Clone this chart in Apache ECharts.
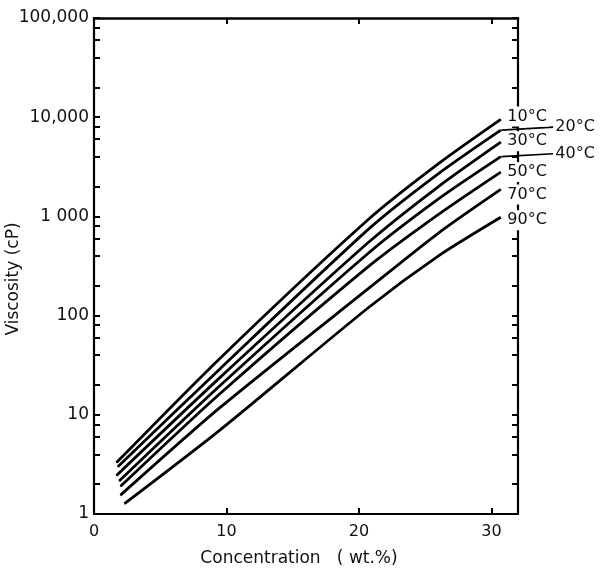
<!DOCTYPE html>
<html>
<head>
<meta charset="utf-8">
<script src="https://cdn.jsdelivr.net/npm/echarts@6/dist/echarts.min.js"></script>
<style>
html,body{margin:0;padding:0;background:#fff;}
#chart{width:600px;height:575px;}
</style>
</head>
<body>
<div id="chart"></div>
<script>
// Temperatures (series names / end labels)
const temps = ['10°C', '20°C', '30°C', '40°C', '50°C', '70°C', '90°C'];
// [concentration wt.%, viscosity cP]
const visc10 = [[1.7, 3.3], [9.5, 37], [20.7, 930], [26, 3400], [30.7, 9500]];
const visc20 = [[1.8, 3.0], [9.5, 29], [20.7, 740], [26, 2700], [30.7, 7400]];
const visc30 = [[1.7, 2.45], [9.5, 23.7], [20.7, 545], [26, 2000], [30.7, 5600]];
const visc40 = [[1.9, 2.15], [9.5, 19.6], [20.7, 425], [26, 1500], [30.7, 4000]];
const visc50 = [[2.0, 1.9], [9.5, 16.3], [20.7, 312], [26, 1050], [30.7, 2800]];
const visc70 = [[2.0, 1.55], [9.5, 11.8], [20.7, 187], [26, 680], [30.7, 1870]];
const visc90 = [[2.3, 1.27], [9.5, 7.0], [20.7, 120], [26, 400], [30.7, 980]];
const allVisc = [visc10, visc20, visc30, visc40, visc50, visc70, visc90];

// Axis ticks / labels
const xLabelValues = [0, 10, 20, 30];
const xTickValues = [10, 20, 30];
const yLabelValues = [1, 10, 100, 1000, 10000, 100000];
const yLabelTexts = ['1', '10', '100', '1 000', '10,000', '100,000'];
const yTickValues = [1, 2, 4, 6, 8, 10, 20, 40, 60, 80, 100, 200, 400, 600, 800,
  1000, 2000, 4000, 6000, 8000, 10000, 20000, 40000, 60000, 80000, 100000];

// label placement tweaks (px)
const labelDx = [0, 48, 0, 48, 0, 0, 0];
const labelDy = [-3, -3, -1, -3, 0, 5, 3];
const labelLeader = [false, true, false, true, false, false, false];

const FONT = 'DejaVu Sans';
const INK = '#111';

const chart = echarts.init(document.getElementById('chart'), null, {renderer: 'canvas'});

function yLabelFmt(v) {
  const i = Math.round(Math.log10(v));
  return yLabelTexts[i] !== undefined ? yLabelTexts[i] : '';
}

const series = allVisc.map((arr, i) => ({
  type: 'line',
  name: temps[i],
  data: arr.map((p, j) => j === arr.length - 1 ? {
    value: p,
    label: {
      show: true, position: 'right', distance: 4, formatter: temps[i],
      fontFamily: FONT, fontSize: 16, color: INK,
      backgroundColor: '#fff', padding: [2, 2]
    }
  } : p),
  smooth: 0.25,
  symbol: 'circle',
  symbolSize: 1,
  showSymbol: true,
  itemStyle: {color: '#000'},
  lineStyle: {color: '#000', width: 2.8},
  label: {show: false},
  labelLayout: {dx: labelDx[i], dy: labelDy[i]},
  labelLine: {show: labelLeader[i], lineStyle: {color: '#000', width: 1.6}},
  emphasis: {disabled: true},
  z: 3
}));

const axisLineStyle = {color: '#000', width: 2.2};

chart.setOption({
  animation: false,
  backgroundColor: '#fff',
  grid: {left: 94, right: 82, top: 18, bottom: 61, containLabel: false, outerBoundsMode: 'none'},
  xAxis: [{
    type: 'value', min: 0, max: 32, position: 'bottom',
    axisLine: {show: true, onZero: false, lineStyle: axisLineStyle},
    axisTick: {show: true, inside: true, length: 6, customValues: xTickValues, lineStyle: {color: '#000', width: 2}},
    axisLabel: {customValues: xLabelValues, fontFamily: FONT, fontSize: 16, color: INK, margin: 10},
    splitLine: {show: false},
    name: 'Concentration   ( wt.%)', nameLocation: 'middle', nameGap: 36, nameMoveOverlap: false,
    nameTextStyle: {fontFamily: FONT, fontSize: 17, color: INK, padding: [0, 14, 0, 0]}
  }, {
    type: 'value', min: 0, max: 32, position: 'top',
    axisLine: {show: true, onZero: false, lineStyle: {color: '#000', width: 2.6}},
    axisTick: {show: true, inside: true, length: 6, customValues: xTickValues, lineStyle: {color: '#000', width: 2}},
    axisLabel: {show: false},
    splitLine: {show: false}
  }],
  yAxis: [{
    type: 'log', logBase: 10, min: 1, max: 100000, position: 'left',
    axisLine: {show: true, onZero: false, lineStyle: axisLineStyle},
    axisTick: {show: true, inside: true, length: 6, customValues: yTickValues, lineStyle: {color: '#000', width: 2}},
    axisLabel: {customValues: yLabelValues, formatter: yLabelFmt, fontFamily: FONT, fontSize: 17, color: INK, margin: 5},
    splitLine: {show: false},
    minorTick: {show: false},
    name: 'Viscosity (cP)', nameLocation: 'middle', nameGap: 72, nameMoveOverlap: false,
    nameTextStyle: {fontFamily: FONT, fontSize: 17, color: INK, padding: [0, 26, 0, 0]}
  }, {
    type: 'log', logBase: 10, min: 1, max: 100000, position: 'right',
    axisLine: {show: true, onZero: false, lineStyle: axisLineStyle},
    axisTick: {show: true, inside: true, length: 6, customValues: yTickValues, lineStyle: {color: '#000', width: 2}},
    axisLabel: {show: false},
    splitLine: {show: false},
    minorTick: {show: false}
  }],
  series: series
});
</script>
</body>
</html>
